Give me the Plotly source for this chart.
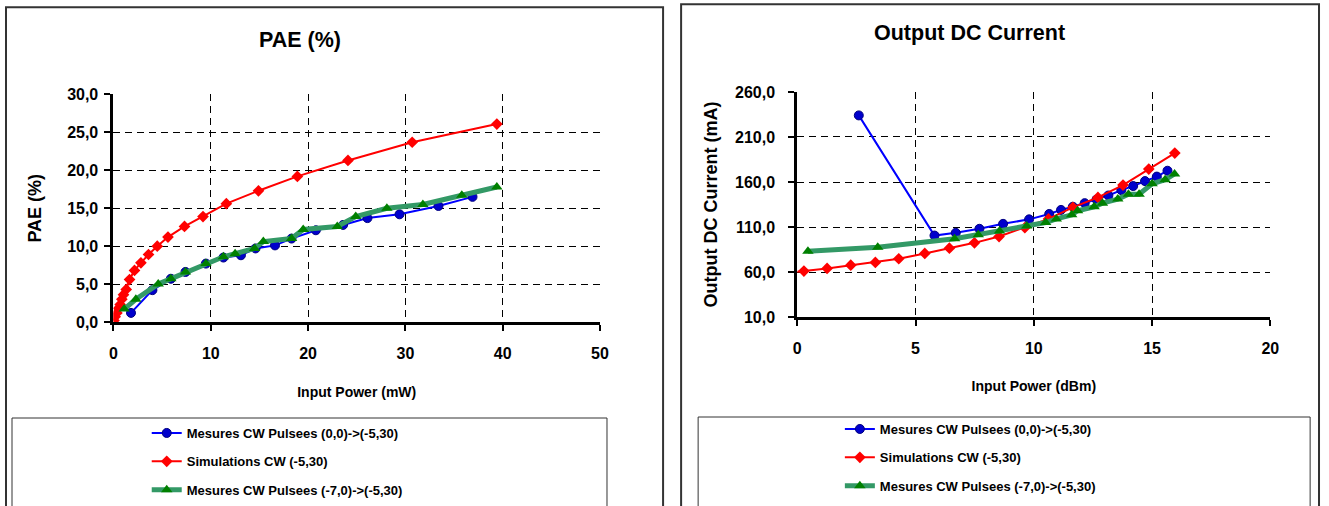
import plotly.graph_objects as go

W, H = 1329, 506

# ---- PAE chart data (input power in mW, PAE in %) ----
pae_mes_a_x = [1.8, 4.0, 5.9, 7.4, 9.5, 11.3, 13.1, 14.6, 16.6, 18.3, 20.8, 23.6, 26.1, 29.4, 33.4, 36.9]
pae_mes_a_y = [1.2, 4.2, 5.7, 6.6, 7.7, 8.5, 8.8, 9.7, 10.1, 11.0, 12.1, 12.8, 13.7, 14.2, 15.3, 16.5]

pae_sim_x = [0.05, 0.17, 0.35, 0.52, 0.69, 0.86, 1.03, 1.31, 1.65, 2.16, 2.82, 3.6, 4.5, 5.6,
             7.3, 9.2, 11.6, 14.9, 18.9, 24.1, 30.7, 39.4]
pae_sim_y = [0.2, 0.7, 1.2, 1.8, 2.3, 3.0, 3.6, 4.3, 5.6, 6.8, 7.8, 8.9, 10.0, 11.2,
             12.6, 13.9, 15.6, 17.3, 19.2, 21.3, 23.7, 26.1]

pae_mes_b_x = [1.1, 2.3, 4.6, 5.9, 7.4, 9.5, 11.3, 12.5, 14.5, 15.4, 18.3, 19.5, 23.0, 24.9,
               28.1, 31.8, 35.8, 39.4]
pae_mes_b_y = [1.7, 3.0, 5.0, 5.7, 6.6, 7.7, 8.6, 9.0, 9.7, 10.6, 11.0, 12.2, 12.6, 13.9,
               15.0, 15.5, 16.7, 17.8]

# ---- Output DC current chart data (input power in dBm, current in mA) ----
idc_mes_a_x = [2.6, 5.8, 6.7, 7.7, 8.7, 9.8, 10.65, 11.15, 11.65, 12.15, 12.65, 13.15,
               13.7, 14.2, 14.7, 15.2, 15.65]
idc_mes_a_y = [234, 100.5, 103.5, 108, 113.5, 118.5, 124.5, 129, 132.5, 136.5, 140.5, 145,
               151, 155.5, 161, 166, 172.5]

idc_sim_x = [-0.7, 0.28, 1.26, 2.26, 3.3, 4.29, 5.39, 6.43, 7.49, 8.53, 9.62, 10.62, 11.65,
             12.71, 13.77, 14.86, 15.96]
idc_sim_y = [58.9, 61, 64, 67.6, 70.6, 74.7, 80.6, 86.5, 92.4, 99.4, 109.2, 119, 131.8,
             142.9, 156.6, 174.4, 192.1]

idc_mes_b_x = [0.45, 3.4, 6.65, 7.65, 8.55, 9.7, 10.5, 10.95, 11.6, 11.85, 12.55, 12.9,
               13.55, 14.0, 14.45, 15.0, 15.55, 15.95]
idc_mes_b_y = [83, 87.5, 97, 101.5, 105.5, 111, 115, 119, 123.5, 128, 132.5, 136.5,
               141, 146.5, 146.5, 158, 162.5, 169]

names = ["Mesures CW Pulsees (0,0)->(-5,30)",
         "Simulations CW (-5,30)",
         "Mesures CW Pulsees (-7,0)->(-5,30)"]

FONT = "Liberation Sans, Arial, sans-serif"

# window-pixel placement helpers (the page shows the figure slightly inset and scaled)
SX, OX = 0.9886, 4.0
SY, OY = H / (H + 16), 7.75


def px(x):
    return min((x - OX) / SX, W - 1) / W


def py(y):
    return 1 - (y - OY) / SY / H


styles = [
    dict(line=dict(color="#0000FF", width=2),
         marker=dict(symbol="circle", size=9, color="#0000CC",
                     line=dict(color="#000080", width=1))),
    dict(line=dict(color="#FF0000", width=2),
         marker=dict(symbol="diamond", size=9, color="#FF0000",
                     line=dict(color="#FF0000", width=0))),
    dict(line=dict(color="#339966", width=5),
         marker=dict(symbol="triangle-up", size=10, color="#008000",
                     line=dict(color="#008000", width=0))),
]

fig = go.Figure()

pae_series = [(pae_mes_a_x, pae_mes_a_y), (pae_sim_x, pae_sim_y), (pae_mes_b_x, pae_mes_b_y)]
idc_series = [(idc_mes_a_x, idc_mes_a_y), (idc_sim_x, idc_sim_y), (idc_mes_b_x, idc_mes_b_y)]

for i in range(3):
    x, y = pae_series[i]
    fig.add_trace(go.Scatter(x=x, y=y, mode="lines+markers", name=names[i],
                             legend="legend", legendgroup=f"a{i}",
                             xaxis="x", yaxis="y", **styles[i]))
for i in range(3):
    x, y = idc_series[i]
    fig.add_trace(go.Scatter(x=x, y=y, mode="lines+markers", name=names[i],
                             legend="legend2", legendgroup=f"b{i}",
                             xaxis="x2", yaxis="y2", **styles[i]))

tick_font = dict(family=FONT, size=16, color="black", weight="bold")
xtitle_font = dict(family=FONT, size=14, color="black", weight="bold")
ytitle_font = dict(family=FONT, size=18, color="black", weight="bold")
legend_font = dict(family=FONT, size=13, color="black", weight="bold")
title_font = dict(family=FONT, size=21.5, color="black", weight="bold")
grid = dict(showgrid=True, gridcolor="black", gridwidth=1, griddash="7px,5px",
            showline=True, linecolor="black", linewidth=3,
            ticks="outside", ticklen=6, tickwidth=2, tickcolor="black",
            tickfont=tick_font, zeroline=False, fixedrange=True)

fig.update_layout(
    width=W, height=H,
    margin=dict(l=0, r=0, t=0, b=0),
    paper_bgcolor="white", plot_bgcolor="white",
    separators=",.",
    font=dict(family=FONT, color="black"),
    showlegend=True,
    xaxis=dict(domain=[px(113.3), px(599)], range=[0, 50], dtick=10, anchor="y",
               title=dict(text="Input Power (mW)", font=xtitle_font, standoff=27),
               ticklabelstandoff=9, **grid),
    yaxis=dict(domain=[py(322.7), py(94.5)], range=[0, 30], dtick=5, anchor="x",
               tickformat=".1f",
               title=dict(text="PAE (%)", font=ytitle_font, standoff=21),
               ticklabelstandoff=3, **grid),
    xaxis2=dict(domain=[px(796), px(1268.3)], range=[0, 20], dtick=5, anchor="y2",
                title=dict(text="Input Power (dBm)", font=xtitle_font, standoff=25),
                ticklabelstandoff=9, **grid),
    yaxis2=dict(domain=[py(317.7), py(92)], range=[10, 260], tick0=10, dtick=50, anchor="x2",
                tickformat=".1f",
                title=dict(text="Output DC Current (mA)", font=ytitle_font, standoff=13),
                ticklabelstandoff=10, **grid),
    legend=dict(x=px(146.5), y=py(419), xanchor="left", yanchor="top",
                bgcolor="rgba(0,0,0,0)", borderwidth=0, tracegroupgap=8.5,
                font=legend_font),
    legend2=dict(x=px(838.5), y=py(415), xanchor="left", yanchor="top",
                 bgcolor="rgba(0,0,0,0)", borderwidth=0, tracegroupgap=8.5,
                 font=legend_font),
    annotations=[
        dict(text="PAE (%)", x=px(299.5), y=py(40), xref="paper", yref="paper",
             showarrow=False, xanchor="center", yanchor="middle", font=title_font),
        dict(text="Output DC Current", x=px(968), y=py(33), xref="paper", yref="paper",
             showarrow=False, xanchor="center", yanchor="middle", font=title_font),
    ],
    shapes=[
        # chart frames
        dict(type="rect", xref="paper", yref="paper", x0=px(6), x1=px(662), y0=py(530), y1=py(7),
             line=dict(color="#333333", width=2), layer="below"),
        dict(type="rect", xref="paper", yref="paper", x0=px(680), x1=px(1340), y0=py(530), y1=py(4),
             line=dict(color="#333333", width=2), layer="below"),
        # legend boxes
        dict(type="rect", xref="paper", yref="paper", x0=px(12), x1=px(606), y0=py(530), y1=py(419),
             line=dict(color="#333333", width=1), layer="below"),
        dict(type="rect", xref="paper", yref="paper", x0=px(697), x1=px(1308), y0=py(530), y1=py(418),
             line=dict(color="#333333", width=1), layer="below"),
    ],
)

fig.write_html("out.html")
